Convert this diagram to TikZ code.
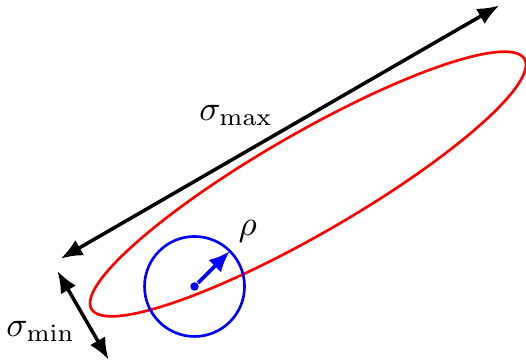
\documentclass[tikz,border=0pt]{standalone}
\usepackage{amsmath,amssymb}
\usetikzlibrary{arrows.meta,positioning,calc}

\begin{document}
\begin{tikzpicture}[
    x=0.5cm, y=0.5cm,
    axis/.style={{Latex[length=6.2pt,width=5pt]}-{Latex[length=6.2pt,width=5pt]}, line width=1pt},
    radius arrow/.style={-{Latex[length=6pt,width=5pt]}, blue, line width=1.1pt},
    contour/.style={draw=#1, line width=0.75pt},
    dot/.style={circle, fill=blue, inner sep=0pt, minimum size=2.4pt},
]

% Frame
\useasboundingbox (0,0) rectangle (10.52,-7.22);

% Ellipse and its own rotated frame
\begin{scope}[shift={(6.16,-3.68)}, rotate=30]
  \draw[contour=red] (0,0) ellipse (5 and 1);
  \coordinate (maxL) at (-5.03,1.18);
  \coordinate (maxR) at (5.10,1.18);
  \coordinate (minT) at (-5.21,1.0);
  \coordinate (minB) at (-5.21,-1.05);
  \node[dot] (c) at (-2.99,-0.64) {};
\end{scope}

% Disc of radius rho
\draw[contour=blue] (c) circle (1);
\coordinate (rim) at ($(c)+(45:1)$);
\draw[radius arrow] (c) -- (rim);
\node[above right=-1.5pt of rim] (rho) {$\rho$};

% Extents
\draw[axis] (maxL) to node[pos=0.4, above=1.8mm] (smax) {$\sigma_{\max}$} (maxR);
\draw[axis] (minT) to node[midway, left=-1.5pt, yshift=-1.6mm] (smin) {$\sigma_{\min}$} (minB);

\end{tikzpicture}
\end{document}
